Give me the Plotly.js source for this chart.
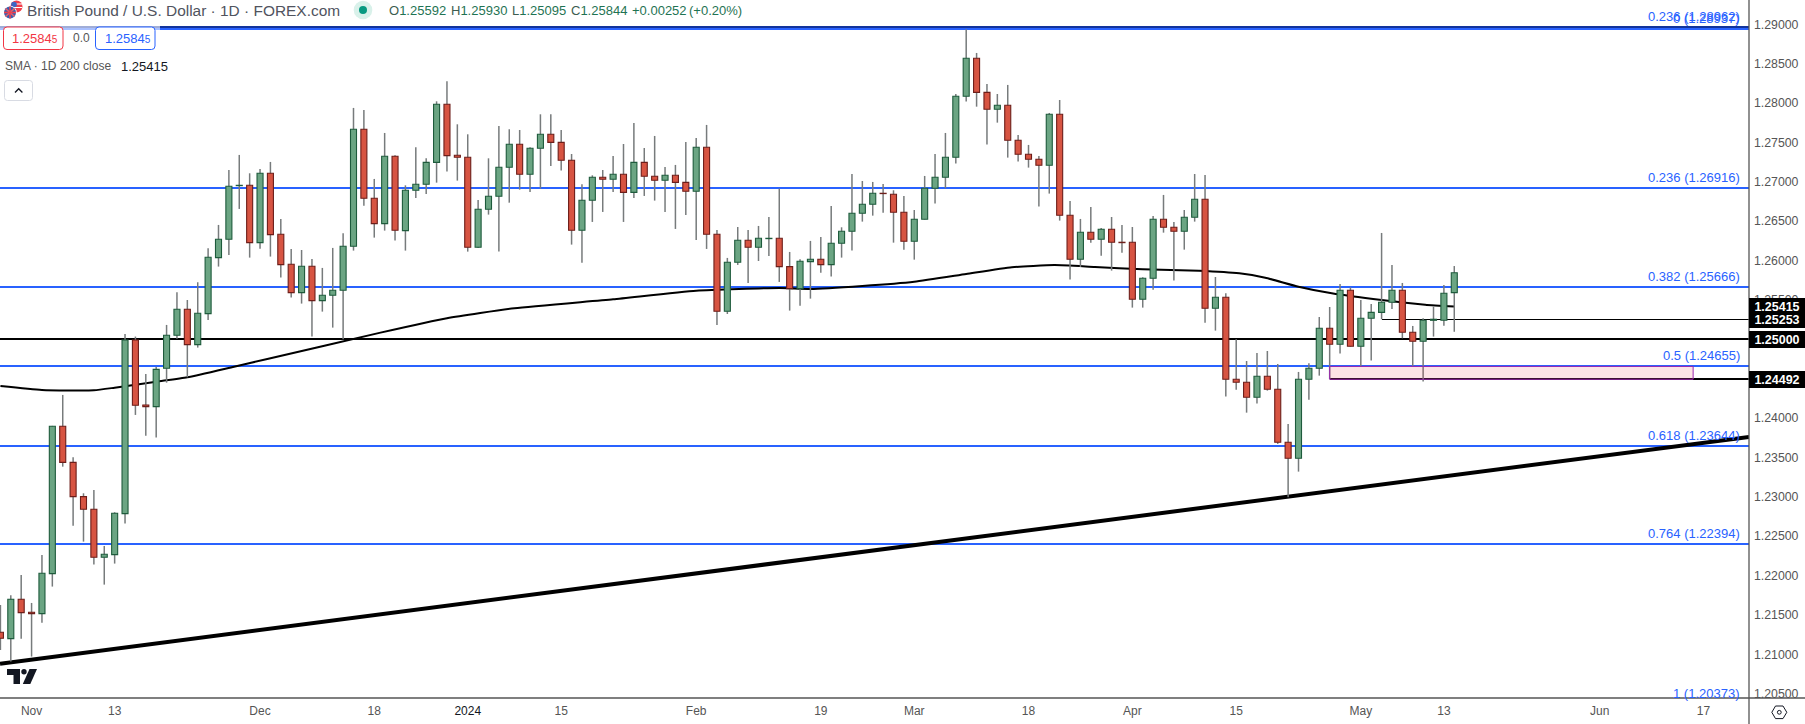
<!DOCTYPE html>
<html><head><meta charset="utf-8">
<script src="https://cdn.plot.ly/plotly-3.0.1.min.js"></script>
<style>html,body{margin:0;padding:0;background:#fff;overflow:hidden}#c{width:1805px;height:724px}</style>
</head><body><div id="c"></div>
<script>
// ---------- data ----------
const firstBar = -3; // bar index of the first candle; index 0 = 1 Nov 2023
const open = [1.21279,1.21198,1.21698,1.21533,1.21516,1.22024,1.23895,1.23437,1.23001,1.22841,1.22231,1.22265,1.22786,1.24991,1.24166,1.24144,1.24631,1.25051,1.25381,1.24932,1.25326,1.26037,1.26270,1.26951,1.26955,1.26227,1.27108,1.26333,1.25952,1.25592,1.25927,1.25491,1.25559,1.25622,1.26181,1.27667,1.26790,1.26469,1.27324,
1.26380,1.26892,1.26968,1.27247,1.27984,1.27336,1.27311,1.26168,1.26651,1.26816,1.27184,1.27476,1.27095,1.27425,1.27603,1.27501,1.27273,1.26384,1.26765,1.27057,1.27032,1.27095,1.26866,1.27247,1.27070,1.27019,1.27082,1.26993,1.26879,1.27438,1.26333,1.25355,1.25978,1.26257,1.26168,1.26278,
1.26282,1.25923,1.25643,1.25986,1.26016,1.25948,1.26219,1.26371,1.26600,1.26714,1.26854,1.26841,1.26613,1.26244,1.26524,1.26917,1.27057,1.27311,1.28086,1.28568,1.28136,1.27921,1.27971,1.27527,1.27349,1.27286,1.27209,1.27857,1.26574,1.26016,1.26359,1.26270,1.26397,1.26232,1.26232,1.25508,1.25774,
1.26524,1.26422,1.26371,1.26549,1.26778,1.25393,1.25533,1.24492,1.24454,1.24263,1.24530,1.24365,1.23692,1.23488,1.24492,1.24631,1.25139,1.24936,1.25622,1.24911,1.25266,1.25342,1.25470,1.25622,1.25089,1.24974,1.25241,1.25241,1.25592];
const close = [1.21202,1.21698,1.21528,1.21516,1.22028,1.23895,1.23437,1.23001,1.22841,1.22231,1.22269,1.22790,1.24991,1.24161,1.24144,1.24618,1.25051,1.25381,1.24932,1.25330,1.26041,1.26270,1.26943,1.26955,1.26227,1.27108,1.26329,1.25948,1.25592,1.25927,1.25491,1.25559,1.25622,1.26181,1.27667,1.26790,1.26469,1.27324,1.26384,
1.26892,1.26968,1.27247,1.27984,1.27332,1.27311,1.26168,1.26651,1.26816,1.27184,1.27476,1.27095,1.27425,1.27603,1.27501,1.27273,1.26384,1.26765,1.27057,1.27032,1.27095,1.26866,1.27247,1.27070,1.27019,1.27082,1.26993,1.26879,1.27438,1.26333,1.25355,1.25978,1.26257,1.26168,1.26282,1.26282,
1.25923,1.25643,1.25990,1.26016,1.25948,1.26219,1.26371,1.26600,1.26714,1.26854,1.26850,1.26613,1.26244,1.26524,1.26917,1.27057,1.27311,1.28086,1.28568,1.28136,1.27921,1.27971,1.27527,1.27349,1.27286,1.27209,1.27857,1.26574,1.26016,1.26359,1.26270,1.26397,1.26232,1.26227,1.25508,1.25774,1.26524,
1.26422,1.26371,1.26549,1.26778,1.25393,1.25533,1.24492,1.24454,1.24263,1.24530,1.24365,1.23692,1.23488,1.24492,1.24631,1.25139,1.24936,1.25622,1.24911,1.25266,1.25342,1.25470,1.25622,1.25089,1.24974,1.25241,1.25254,1.25584,1.25844];
const high = [1.21626,1.21748,1.22007,1.21651,1.22261,1.23900,1.24293,1.23501,1.23044,1.23086,1.22375,1.22803,1.25067,1.25034,1.24559,1.24652,1.25182,1.25597,1.25499,1.25724,1.26155,1.26452,1.27150,1.27341,1.27108,1.27163,1.27252,1.26528,1.26147,1.26134,1.26020,1.25906,1.26160,1.26346,1.27938,1.27912,1.27036,1.27620,1.27336,
1.26955,1.27438,1.27298,1.28022,1.28276,1.27730,1.27603,1.26769,1.27298,1.27709,1.27667,1.27658,1.27438,1.27857,1.27857,1.27658,1.27353,1.26968,1.27082,1.27150,1.27328,1.27480,1.27747,1.27429,1.27582,1.27188,1.27214,1.27506,1.27556,1.27722,1.26388,1.26033,1.26426,1.26388,1.26439,1.26553,
1.26913,1.26109,1.26016,1.26249,1.26299,1.26693,1.26422,1.27099,1.27010,1.26998,1.26972,1.26892,1.26820,1.26642,1.27074,1.27353,1.27620,1.28115,1.28937,1.28636,1.28242,1.28115,1.28230,1.27595,1.27468,1.27328,1.27874,1.28039,1.26756,1.26528,1.26680,1.26414,1.26553,1.26452,1.26426,1.25787,1.26566,
1.26833,1.26490,1.26642,1.27099,1.27087,1.25791,1.25584,1.25000,1.24724,1.24826,1.24851,1.24686,1.23924,1.24585,1.24695,1.25283,1.25410,1.25702,1.25660,1.25499,1.25448,1.26350,1.25944,1.25715,1.25169,1.25266,1.25415,1.25690,1.25930];
const low = [1.21054,1.20906,1.21198,1.20970,1.21401,1.21859,1.23382,1.22633,1.22430,1.22138,1.21884,1.22151,1.22659,1.24039,1.23776,1.23751,1.24449,1.25008,1.24517,1.24894,1.25245,1.25923,1.26071,1.26655,1.26037,1.26151,1.26050,1.25783,1.25529,1.25453,1.25034,1.25351,1.25148,1.25000,1.26126,1.26697,1.26291,1.26380,1.26253,
1.26126,1.26795,1.26845,1.26989,1.27129,1.27015,1.26113,1.26160,1.26583,1.26113,1.26735,1.26900,1.26871,1.26913,1.27201,1.27142,1.26202,1.25973,1.26490,1.26617,1.26871,1.26490,1.26795,1.26820,1.26761,1.26617,1.26401,1.26579,1.26261,1.26147,1.25182,1.25321,1.25944,1.25715,1.25994,1.26058,
1.25728,1.25364,1.25427,1.25516,1.25846,1.25796,1.26037,1.26126,1.26494,1.26570,1.26608,1.26227,1.26138,1.26011,1.26520,1.26723,1.26917,1.27231,1.28018,1.27954,1.27472,1.27751,1.27307,1.27256,1.27180,1.26685,1.26850,1.26507,1.25758,1.25918,1.26227,1.26062,1.25872,1.26100,1.25402,1.25402,1.25630,
1.26354,1.25745,1.26138,1.26494,1.25211,1.25110,1.24272,1.24360,1.24068,1.24183,1.24348,1.23671,1.22993,1.23319,1.24233,1.24538,1.24492,1.24818,1.24905,1.24661,1.24729,1.25254,1.25385,1.25012,1.24661,1.24462,1.25034,1.25173,1.25095];

const smaBars = [-3,1,6,8,12,15,19.5,22.7,33.6,40,46.5,56,64,72,75,80,85,90,94.4,98.5,102.4,107,112.4,116.3,118.8,122,125.2,130,134.2,137];
const smaVals = [1.24406,1.24356,1.24352,1.24385,1.24461,1.24517,1.24652,1.24749,1.25084,1.25267,1.25394,1.25508,1.25617,1.25651,1.25639,1.25677,1.25731,1.25829,1.25914,1.25943,1.25918,1.25889,1.25871,1.25838,1.25782,1.25668,1.25584,1.25499,1.25439,1.25415];

const trendBars = [-3.04,165.38];
const trendVals = [1.2088,1.2376];

const fibLevels = [1.28962,1.28937,1.26916,1.25666,1.24655,1.23644,1.22394,1.20373];
const fibNames  = ['0.236','0','0.236','0.382','0.5','0.618','0.764','1'];
const fibColors = ['#12349c','#2962ff','#2962ff','#2962ff','#2962ff','#2962ff','#2962ff','#2962ff'];

const roundLevel = 1.25;
const shortLevels = [[130,1.25253],[125,1.24492]];
const zoneBars = [125,160];
const zoneVals = [1.24492,1.24655];
const priceTags = [1.25253,1.25415,1.25,1.24492];

const tickBars = [0,8,22,33,42,51,64,76,85,96,106,116,128,136,151,161];
const tickLabels = ['Nov','13','Dec','18','2024','15','Feb','19','Mar','18','Apr','15','May','13','Jun','17'];

const ohlcTokens = [[388,'O','1.25592'],[450,'H','1.25930'],[511,'L','1.25095'],[570,'C','1.25844'],[631,'','+0.00252'],[688,'','(+0.20%)']];

// ---------- frame ----------
const W = 1805, H = 724, plotW = 1749, plotH = 698;
const xRange = [-3.04,165.38], yRange = [1.20444,1.293086];
const FONT = '"Liberation Sans", Arial, sans-serif';
const px = x => x/plotW, py = y => 1 - y/plotH;
const yFrac = v => (v-yRange[0])/(yRange[1]-yRange[0]);
const bars = open.map((_,i)=>i+firstBar);

function rr(x0,y0,x1,y1,r){
  const P=(x,y)=>px(x)+','+py(y);
  return 'M'+P(x0+r,y0)+'L'+P(x1-r,y0)+'Q'+P(x1,y0)+' '+P(x1,y0+r)+'L'+P(x1,y1-r)+'Q'+P(x1,y1)+' '+P(x1-r,y1)+'L'+P(x0+r,y1)+'Q'+P(x0,y1)+' '+P(x0,y1-r)+'L'+P(x0,y0+r)+'Q'+P(x0,y0)+' '+P(x0+r,y0)+'Z';
}
function poly(points){ return 'M'+points.map(p=>px(p[0])+','+py(p[1])).join('L')+'Z'; }
function open_path(points){ return 'M'+points.map(p=>px(p[0])+','+py(p[1])).join('L'); }
const paperShape = o => Object.assign({xref:'paper',yref:'paper'},o);
function circ(cx,cy,r,fill,line,lw){ return paperShape({type:'circle',x0:px(cx-r),x1:px(cx+r),y0:py(cy+r),y1:py(cy-r),fillcolor:fill,line:{color:line||fill,width:lw===undefined?0:lw}}); }

// ---------- traces ----------
const isUp = open.map((o,i)=>close[i]>=o);
const traces = [];
fibLevels.forEach((v,i)=>traces.push({type:'scatter',mode:'lines',x:xRange,y:[v,v],line:{color:fibColors[i],width:2},hoverinfo:'skip',showlegend:false}));
traces.push({type:'scatter',mode:'lines',x:xRange,y:[roundLevel,roundLevel],line:{color:'#000',width:2},hoverinfo:'skip'});
shortLevels.forEach((s,i)=>traces.push({type:'scatter',mode:'lines',x:[s[0],xRange[1]],y:[s[1],s[1]],line:{color:'#000',width:i?2:1},hoverinfo:'skip'}));
const crispCount = traces.length;
traces.push({type:'scatter',mode:'lines',x:smaBars,y:smaVals,line:{color:'#000',width:2,shape:'spline',smoothing:0.5},hoverinfo:'skip'});
traces.push({type:'scatter',mode:'lines',x:trendBars,y:trendVals,line:{color:'#000',width:4},hoverinfo:'skip'});
// wicks
traces.push({type:'bar',xaxis:'x2',yaxis:'y2',x:bars,base:low,y:high.map((h,i)=>h-low[i]),width:0.145,marker:{color:'#777b7c',line:{width:0}},hoverinfo:'skip'});
// bodies
traces.push({type:'bar',xaxis:'x2',yaxis:'y2',x:bars,
  base:open.map((o,i)=>Math.min(o,close[i])),
  y:open.map((o,i)=>Math.max(Math.abs(o-close[i]),0.00002)),
  width:0.58,
  marker:{color:isUp.map(u=>u?'#6ba583':'#d75442'),line:{width:1.1,color:isUp.map(u=>u?'#1e5b3c':'#6d1e1a')}},hoverinfo:'skip'});

// ---------- annotations ----------
const ann = [];
function text(x,y,t,o){ ann.push(Object.assign({xref:'paper',yref:'paper',x:px(x),y:py(y),text:t,showarrow:false,xanchor:'left',yanchor:'middle',font:{family:FONT,size:13,color:'#555'},borderpad:0},o||{})); }

text(26,10.5,'British Pound / U.S. Dollar · 1D · FOREX.com',{font:{family:FONT,size:15.45,color:'#50535e'}});
ohlcTokens.forEach(t=>text(t[0],10.5,(t[1]?'<span style="color:#3d5c50">'+t[1]+'</span>':'')+t[2],{font:{family:FONT,size:13,color:'#1f7353'}}));
text(11,38.5,'1.2584<span style="font-size:10px">5</span>',{font:{family:FONT,size:13,color:'#f23645'}});
text(72,38,'0.0',{font:{family:FONT,size:12,color:'#555'}});
text(103.5,38.5,'1.2584<span style="font-size:10px">5</span>',{font:{family:FONT,size:13,color:'#2962ff'}});
text(4,66.5,'SMA · 1D 200 close',{font:{family:FONT,size:12,color:'#555'}});
text(120,66.5,'1.25415',{font:{family:FONT,size:13,color:'#131722'}});

fibLevels.forEach((v,i)=>{
  ann.push({xref:'paper',yref:'paper',x:px(1740.7),y:yFrac(v),yshift:10.5,text:fibNames[i]+' ('+v.toFixed(5)+')',showarrow:false,xanchor:'right',yanchor:'middle',font:{family:FONT,size:13,color:'#2962ff'},borderpad:0});
});
priceTags.forEach(v=>{
  ann.push({xref:'paper',yref:'paper',x:1,xanchor:'left',y:yFrac(v),yanchor:'middle',text:'<b>'+v.toFixed(5)+'</b>',showarrow:false,bgcolor:'#000',width:56,height:17,borderpad:0,borderwidth:0,align:'center',font:{family:FONT,size:12.5,color:'#fff'}});
});

// ---------- decoration shapes ----------
const shapes = [
  {type:'rect',xref:'x',yref:'y',x0:zoneBars[0],x1:zoneBars[1],y0:zoneVals[0],y1:zoneVals[1],fillcolor:'rgba(242,54,69,0.14)',line:{color:'#9c27b0',width:1},layer:'above'},
  // pale veil of the legend over the top lines
  paperShape({type:'rect',x0:0,x1:px(160),y0:py(31),y1:py(0),fillcolor:'rgba(255,255,255,0.6)',line:{width:0},layer:'above'}),
  // axis borders
  paperShape({type:'line',x0:1,x1:1,y0:py(724),y1:1,line:{color:'#555',width:1.3},layer:'above'}),
  paperShape({type:'line',x0:0,x1:px(1805),y0:0,y1:0,line:{color:'#555',width:1.3},layer:'above'}),
  // legend boxes
  paperShape({type:'path',path:rr(3.5,27,63,49.5,3.5),fillcolor:'#fff',line:{color:'#f23645',width:1},layer:'above'}),
  paperShape({type:'path',path:rr(95.5,27,155,49.5,3.5),fillcolor:'#fff',line:{color:'#2962ff',width:1},layer:'above'}),
  paperShape({type:'path',path:rr(4.5,80.5,32.5,100.5,3),fillcolor:'#fff',line:{color:'#d8dbe3',width:1},layer:'above'}),
  paperShape({type:'path',path:open_path([[15,92.5],[18.7,88.7],[22.4,92.5]]),line:{color:'#131722',width:1.3},layer:'above'}),
  // status dot
  circ(363,10,9.3,'#d9f1ea'), circ(363,10,4,'#089981'),
  // flags
  circ(16.5,6.5,6,'#f23f4c'),
  paperShape({type:'line',x0:px(12),x1:px(22),y0:py(4),y1:py(4),line:{color:'#fff',width:1}}),
  paperShape({type:'line',x0:px(12),x1:px(22),y0:py(7.5),y1:py(7.5),line:{color:'#fff',width:1}}),
  circ(14,4.5,2.8,'#3c66c4'),
  circ(10,12.5,6.8,'#fff'), circ(10,12.5,6,'#3a5fae'),
  paperShape({type:'line',x0:px(5.5),x1:px(14.5),y0:py(8.5),y1:py(16.5),line:{color:'#e5606a',width:1.6}}),
  paperShape({type:'line',x0:px(5.5),x1:px(14.5),y0:py(16.5),y1:py(8.5),line:{color:'#e5606a',width:1.6}}),
  paperShape({type:'line',x0:px(4),x1:px(16),y0:py(12.5),y1:py(12.5),line:{color:'#ec3f4e',width:1.6}}),
  paperShape({type:'line',x0:px(10),x1:px(10),y0:py(6.5),y1:py(18.5),line:{color:'#ec3f4e',width:1.6}}),
  // watermark logo
  paperShape({type:'path',path:poly([[7,669],[20,669],[20,684],[13.5,684],[13.5,675],[7,675]]),fillcolor:'#131722',line:{width:0},layer:'above'}),
  circ(24,671.7,2.7,'#131722'),
  paperShape({type:'path',path:poly([[29.5,669],[37,669],[30.3,684],[22.8,684]]),fillcolor:'#131722',line:{width:0},layer:'above'}),
  // settings hexagon
  paperShape({type:'path',path:poly([[1771.8,712.3],[1775.5,706],[1783,706],[1786.8,712.3],[1783,718.6],[1775.5,718.6]]),fillcolor:'rgba(0,0,0,0)',line:{color:'#131722',width:1},layer:'above'}),
  circ(1779.3,712.3,1.9,'rgba(0,0,0,0)','#131722',1)
];

const tickSpan = t => t==='2024' ? '<span style="color:#131722">2024</span>' : t;
const layout = {
  width:W,height:H,autosize:false,showlegend:false,
  margin:{l:0,r:W-plotW,t:0,b:H-plotH,pad:0},
  paper_bgcolor:'#fff',plot_bgcolor:'#fff',
  barmode:'overlay',
  xaxis:{range:xRange,type:'linear',tickmode:'array',tickvals:tickBars,ticktext:tickBars.map((_,i)=>tickSpan(tickLabels[i])),showgrid:false,zeroline:false,showline:false,ticks:'',ticklen:0,tickangle:0,tickfont:{family:FONT,size:12,color:'#555'},ticklabelstandoff:4,fixedrange:true},
  yaxis:{range:yRange,side:'right',tickmode:'linear',tick0:1.2,dtick:0.005,tickformat:'.5f',showgrid:false,zeroline:false,showline:false,ticks:'',tickfont:{family:FONT,size:12.3,color:'#555'},ticklabelstandoff:4,fixedrange:true},
  xaxis2:{range:xRange,overlaying:'x',visible:false,type:'linear',fixedrange:true},
  yaxis2:{range:yRange,overlaying:'y',side:'right',visible:false,fixedrange:true},
  annotations:ann,shapes:shapes
};
Plotly.newPlot('c',traces,layout,{displayModeBar:false,staticPlot:true}).then(gd=>{
  gd.querySelectorAll('.scatterlayer .trace').forEach((t,i)=>{ if(i<crispCount) t.style.shapeRendering='crispEdges'; });
});
</script></body></html>
